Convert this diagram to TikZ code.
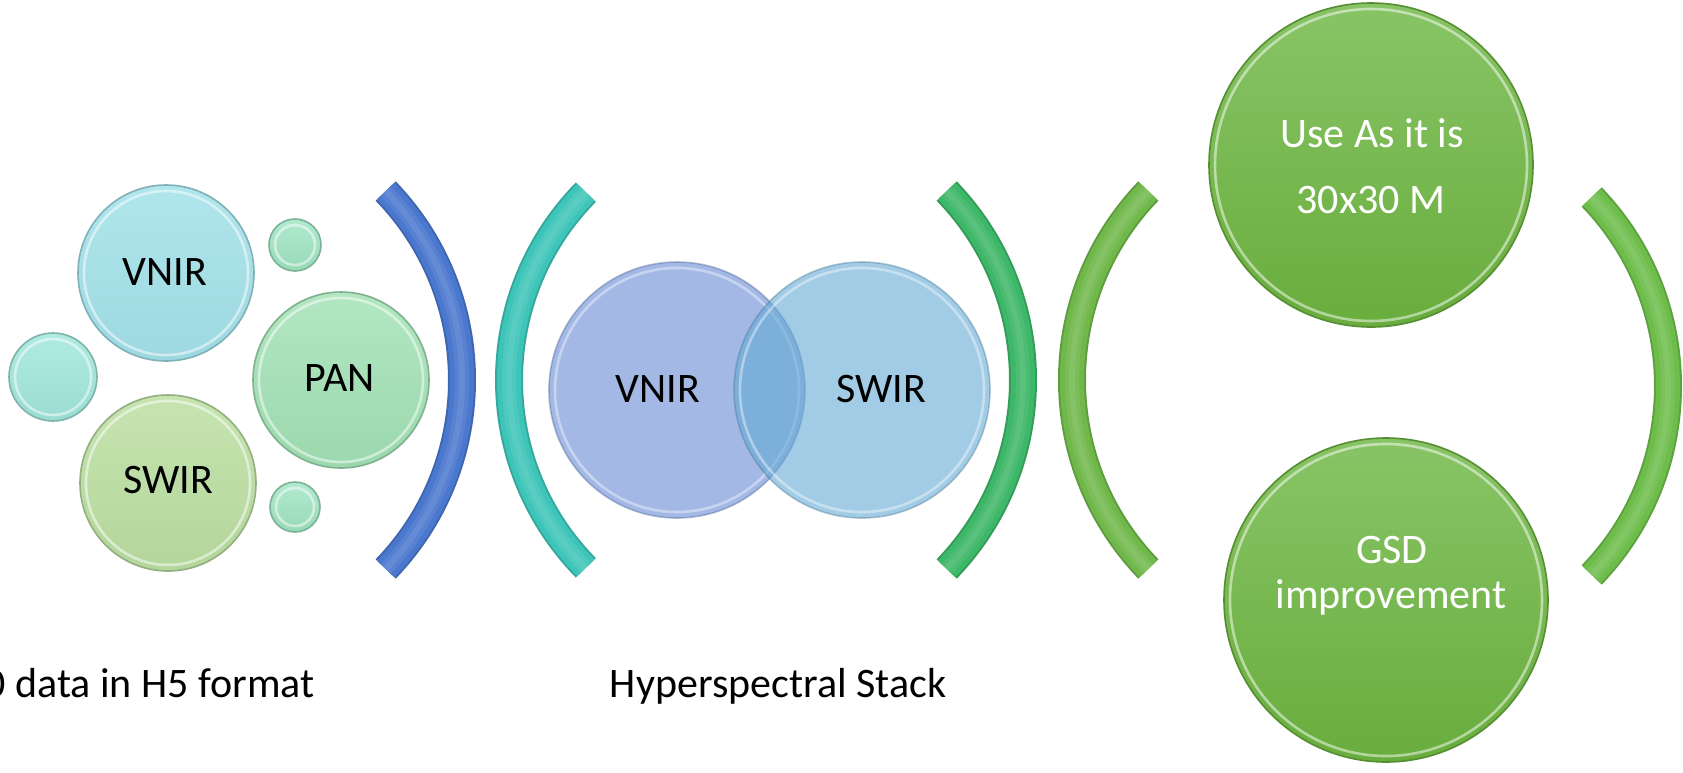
\documentclass[tikz,border=0pt]{standalone}
\usepackage{fontspec}
\setmainfont{Carlito}

% bubble fills (top / bottom of the gradient)
\definecolor{cyanT}{HTML}{B0E6EC}\definecolor{cyanB}{HTML}{9DD8E0}
\definecolor{panT}{HTML}{B2E7C2}\definecolor{panB}{HTML}{9BD8AD}
\definecolor{swT}{HTML}{C6E4B0}\definecolor{swB}{HTML}{B3D69B}
\definecolor{dotLT}{HTML}{B0EBE2}\definecolor{dotLB}{HTML}{9ADCD2}
\definecolor{dotT}{HTML}{B2EACF}\definecolor{dotB}{HTML}{97D9B7}
\definecolor{grT}{HTML}{88C466}\definecolor{grB}{HTML}{69AD3D}
% overlapping pair, drawn with transparency
\definecolor{vnirC}{RGB}{103,138,213}
\definecolor{swirC}{RGB}{100,170,213}
% bracket tubes
\definecolor{tubeBlue}{HTML}{4A78CE}
\definecolor{tubeTeal}{HTML}{3EC5B9}
\definecolor{tubeGreenA}{HTML}{3DB768}
\definecolor{tubeGreenB}{HTML}{70B84A}
\definecolor{tubeGreenC}{HTML}{6EBD4B}

\tikzset{
  bubble/.style 2 args={circle, inner sep=0pt, top color=#1, bottom color=#2,
    draw=#2!82!black, line width=0.8pt},
  glassy/.style={circle, inner sep=0pt, fill=#1, fill opacity=0.6,
    draw=#1!70!black, draw opacity=0.4, line width=0.8pt},
  shine/.style={draw=white, line width=1.3pt, opacity=0.5},
  lbl/.style={font=\fontsize{21}{25}\selectfont, anchor=base, inner sep=0pt},
  wlbl/.style={lbl, text=white},
}

% a round bubble with a bevel highlight: name, x, y, radius(px), top, bottom
\newcommand\bubbleat[6]{%
  \node[bubble={#5}{#6}, minimum size=#4 pt] (#1) at (#2,#3) {};
  \draw[shine] (#1.center) circle[radius=#4-6];
}
% a tube-like bracket: centre x, y, radius, start, end angle, colour
\newcommand\tubearc[6]{%
  \draw[line width=14pt, #6!85!black] (#1,#2) ++(#4:#3) arc[start angle=#4, end angle=#5, radius=#3];
  \draw[line width=12pt, #6] (#1,#2) ++(#4:#3) arc[start angle=#4, end angle=#5, radius=#3];
  \draw[line width=7pt, white, opacity=0.08] (#1,#2) ++(#4:#3) arc[start angle=#4, end angle=#5, radius=#3];
  \draw[line width=3pt, white, opacity=0.08] (#1,#2) ++(#4:#3) arc[start angle=#4, end angle=#5, radius=#3];
}

\begin{document}
\begin{tikzpicture}[x=0.5pt, y=-0.5pt]
  \useasboundingbox (0,0) rectangle (1683,772);
  \fill[white] (0,0) rectangle (1683,772);
  \clip (0,0) rectangle (1683,772);

  % --- input bands ---
  \bubbleat{dotL}{53}{377}{44}{dotLT}{dotLB}
  \bubbleat{dotTop}{295}{245}{26}{dotT}{dotB}
  \bubbleat{dotBot}{295}{507}{25}{dotT}{dotB}
  \bubbleat{vnirA}{166}{273}{88}{cyanT}{cyanB}
  \bubbleat{pan}{341}{380}{88}{panT}{panB}
  \bubbleat{swirA}{168}{483}{88}{swT}{swB}
  \node[lbl] (tVnirA) at (165,285) {VNIR};
  \node[lbl] (tPan) at (340,391) {PAN};
  \node[lbl] (tSwirA) at (168,493) {SWIR};
  \node[lbl, anchor=base east] (tInput) at (315,697) {L0 data in H5 format};

  % --- brackets ---
  \tubearc{190}{380}{272}{-44}{44}{tubeBlue}
  \tubearc{777}{380}{268}{135.5}{224.5}{tubeTeal}
  \tubearc{751}{380}{272}{-44}{44}{tubeGreenA}
  \tubearc{1344}{380}{272}{136}{224}{tubeGreenB}
  \tubearc{1396}{386}{272}{-44}{44}{tubeGreenC}

  % --- stacked bands ---
  \node[glassy=vnirC, minimum size=128pt] (vnirB) at (677,390) {};
  \draw[shine, opacity=0.4] (vnirB.center) circle[radius=122];
  \node[glassy=swirC, minimum size=128pt] (swirB) at (862,390) {};
  \draw[shine, opacity=0.4] (swirB.center) circle[radius=122];
  \node[lbl] (tVnirB) at (658,402) {VNIR};
  \node[lbl] (tSwirB) at (881,402) {SWIR};
  \node[lbl] (tStack) at (778,697) {Hyperspectral Stack};

  % --- options ---
  \bubbleat{useAs}{1371}{165}{162}{grT}{grB}
  \bubbleat{gsd}{1386}{600}{162}{grT}{grB}
  \node[wlbl] (tUse) at (1372,147) {Use As it is};
  \node[wlbl] (tRes) at (1371,213) {30x30 M};
  \node[wlbl] (tGsd) at (1392,563) {GSD};
  \node[wlbl] (tImp) at (1391,608) {improvement};
\end{tikzpicture}
\end{document}
